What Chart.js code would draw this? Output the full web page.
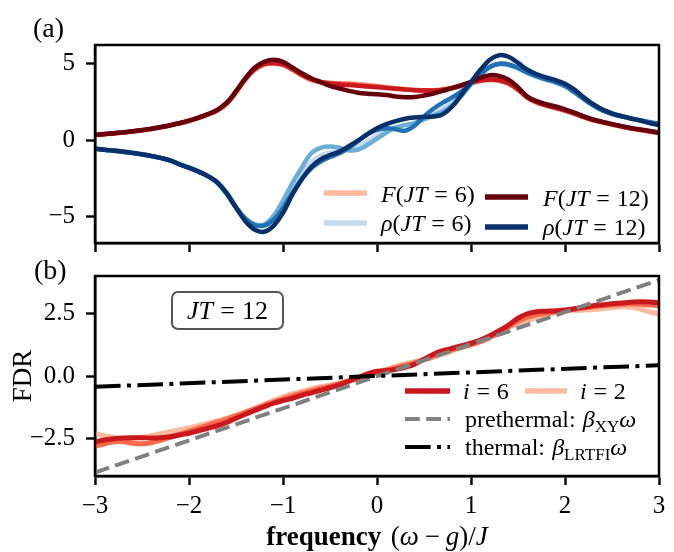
<!DOCTYPE html>
<html><head><meta charset="utf-8">
<script src="https://cdn.jsdelivr.net/npm/chart.js@4/dist/chart.umd.min.js"></script>
<style>
html,body{margin:0;padding:0;background:#fff;width:674px;height:552px;overflow:hidden}
#ca{position:absolute;left:0;top:0}
#cb{position:absolute;left:0;top:258px}
</style></head><body>
<canvas id="ca" width="674" height="258"></canvas>
<canvas id="cb" width="674" height="294"></canvas>
<script>
// ---------- data ----------
const freq = [-3.0,-2.9,-2.8,-2.7,-2.6,-2.5,-2.4,-2.3,-2.2,-2.1,
  -2.0,-1.9,-1.8,-1.7,-1.6,-1.5,-1.4,-1.3,-1.2,-1.1,
  -1.0,-0.9,-0.8,-0.7,-0.6,-0.5,-0.4,-0.3,-0.2,-0.1,
  0.0,0.1,0.2,0.3,0.4,0.5,0.6,0.7,0.8,0.9,
  1.0,1.1,1.2,1.3,1.4,1.5,1.6,1.7,1.8,1.9,
  2.0,2.1,2.2,2.3,2.4,2.5,2.6,2.7,2.8,2.9,3.0];

const F_JT6 = [0.33,0.38,0.44,0.50,0.56,0.64,0.73,0.84,0.96,1.10,
  1.26,1.45,1.67,1.94,2.38,3.10,3.95,4.60,4.93,5.00,
  4.90,4.60,4.22,3.92,3.78,3.74,3.72,3.70,3.66,3.60,
  3.54,3.47,3.40,3.34,3.29,3.26,3.25,3.28,3.38,3.54,
  3.72,3.86,3.93,3.88,3.68,3.28,2.76,2.44,2.24,2.08,
  1.91,1.71,1.49,1.30,1.15,1.01,0.88,0.76,0.66,0.56,0.47];
const F_JT8 = [0.33,0.38,0.44,0.50,0.56,0.64,0.73,0.84,0.96,1.10,
  1.26,1.45,1.67,1.94,2.38,3.12,3.98,4.62,4.95,5.02,
  4.92,4.62,4.25,3.95,3.80,3.74,3.70,3.68,3.64,3.58,
  3.52,3.44,3.37,3.32,3.28,3.26,3.26,3.30,3.40,3.56,
  3.74,3.88,3.95,3.90,3.70,3.30,2.78,2.46,2.26,2.10,
  1.93,1.73,1.50,1.31,1.16,1.02,0.89,0.77,0.67,0.57,0.48];
const F_JT10 = [0.34,0.39,0.45,0.51,0.57,0.65,0.74,0.85,0.97,1.11,
  1.27,1.46,1.68,1.95,2.40,3.15,4.00,4.65,4.98,5.05,
  4.95,4.65,4.28,3.98,3.80,3.70,3.64,3.60,3.56,3.51,
  3.46,3.41,3.36,3.31,3.27,3.25,3.25,3.30,3.42,3.58,
  3.76,3.90,3.97,3.92,3.72,3.32,2.80,2.48,2.28,2.12,
  1.95,1.75,1.52,1.32,1.17,1.03,0.90,0.78,0.68,0.58,0.49];
const F_JT12 = [0.35,0.40,0.46,0.52,0.58,0.66,0.75,0.86,0.98,1.12,
  1.28,1.48,1.70,1.98,2.45,3.20,4.05,4.75,5.12,5.25,
  5.12,4.75,4.38,4.05,3.80,3.55,3.38,3.22,3.10,3.04,
  3.00,2.95,2.85,2.80,2.82,2.92,3.05,3.22,3.40,3.60,
  3.82,4.08,4.25,4.20,3.95,3.45,2.85,2.55,2.35,2.20,
  2.02,1.80,1.55,1.35,1.20,1.05,0.92,0.80,0.70,0.60,0.50];

const rho_JT6 = [-0.56,-0.62,-0.68,-0.75,-0.83,-0.92,-1.03,-1.16,-1.32,-1.56,
  -1.78,-2.03,-2.33,-2.76,-3.48,-4.38,-5.12,-5.52,-5.55,-5.10,
  -4.25,-3.15,-2.20,-1.45,-1.00,-0.80,-0.70,-0.62,-0.40,-0.05,
  0.30,0.62,0.85,1.00,1.15,1.40,1.70,2.05,2.50,3.05,
  3.70,4.35,4.80,4.98,4.92,4.70,4.40,4.15,3.95,3.78,
  3.52,3.12,2.68,2.27,1.94,1.72,1.56,1.42,1.30,1.18,1.08];
const rho_JT8 = [-0.57,-0.63,-0.69,-0.76,-0.84,-0.93,-1.04,-1.17,-1.33,-1.58,
  -1.80,-2.05,-2.35,-2.78,-3.50,-4.40,-5.10,-5.50,-5.50,-4.95,
  -3.95,-2.80,-1.80,-0.85,-0.50,-0.42,-0.50,-0.66,-0.62,-0.30,
  0.10,0.50,0.82,0.98,1.12,1.35,1.62,1.88,2.28,2.90,
  3.65,4.35,4.80,4.98,4.92,4.70,4.40,4.15,3.95,3.78,
  3.52,3.12,2.68,2.27,1.94,1.72,1.56,1.42,1.30,1.18,1.08];
const rho_JT10 = [-0.57,-0.63,-0.69,-0.76,-0.84,-0.93,-1.04,-1.17,-1.33,-1.58,
  -1.80,-2.05,-2.35,-2.78,-3.50,-4.40,-5.15,-5.55,-5.58,-5.20,
  -4.45,-3.45,-2.55,-1.85,-1.40,-1.10,-0.85,-0.50,-0.05,0.40,
  0.68,0.78,0.72,0.62,0.95,1.55,2.05,2.45,2.80,3.20,
  3.70,4.30,4.78,5.00,4.95,4.72,4.42,4.18,3.98,3.80,
  3.55,3.15,2.70,2.28,1.95,1.72,1.56,1.42,1.30,1.18,1.08];
const rho_JT12 = [-0.55,-0.62,-0.68,-0.75,-0.83,-0.92,-1.03,-1.16,-1.32,-1.58,
  -1.80,-2.05,-2.35,-2.75,-3.45,-4.40,-5.30,-5.85,-5.98,-5.60,
  -4.75,-3.55,-2.55,-1.75,-1.25,-0.98,-0.75,-0.40,-0.02,0.40,
  0.78,1.05,1.25,1.40,1.48,1.52,1.55,1.70,2.20,3.00,
  3.80,4.60,5.25,5.55,5.45,5.05,4.60,4.30,4.10,3.92,
  3.68,3.30,2.80,2.35,2.00,1.75,1.57,1.42,1.28,1.12,0.98];

const fdr_i2 = [-2.30,-2.38,-2.45,-2.50,-2.48,-2.44,-2.38,-2.30,-2.22,-2.14,
  -2.06,-1.98,-1.88,-1.78,-1.68,-1.55,-1.42,-1.28,-1.12,-0.96,
  -0.82,-0.70,-0.60,-0.50,-0.42,-0.36,-0.28,-0.18,-0.05,0.08,
  0.18,0.28,0.40,0.50,0.58,0.66,0.76,0.88,1.02,1.15,
  1.28,1.42,1.60,1.78,1.95,2.10,2.22,2.35,2.45,2.55,
  2.60,2.63,2.65,2.67,2.70,2.74,2.78,2.76,2.68,2.57,2.49];
const fdr_i4 = [-2.80,-2.70,-2.62,-2.62,-2.68,-2.70,-2.66,-2.56,-2.44,-2.32,
  -2.20,-2.08,-1.96,-1.84,-1.72,-1.58,-1.44,-1.30,-1.16,-1.03,
  -0.90,-0.78,-0.68,-0.58,-0.48,-0.40,-0.30,-0.18,-0.05,0.08,
  0.16,0.24,0.34,0.44,0.54,0.66,0.80,0.94,1.06,1.16,
  1.26,1.38,1.55,1.75,1.98,2.20,2.36,2.46,2.52,2.58,
  2.63,2.68,2.73,2.78,2.82,2.85,2.88,2.89,2.88,2.85,2.82];
const fdr_i6 = [-2.62,-2.55,-2.50,-2.47,-2.46,-2.46,-2.47,-2.46,-2.42,-2.35,
  -2.28,-2.18,-2.08,-1.98,-1.85,-1.68,-1.52,-1.37,-1.22,-1.08,
  -0.97,-0.88,-0.76,-0.66,-0.56,-0.46,-0.34,-0.20,-0.06,0.10,
  0.20,0.22,0.28,0.36,0.48,0.68,0.88,1.02,1.12,1.22,
  1.32,1.45,1.62,1.82,2.05,2.32,2.50,2.58,2.60,2.62,
  2.65,2.70,2.76,2.82,2.86,2.90,2.93,2.96,2.98,2.97,2.93];

const lineX = [-3, 3];
const prethermal = [-3.85, 3.85];
const thermal = [-0.42, 0.44];

const ticksX = [-3,-2,-1,0,1,2,3];
const ticksA = [-5,0,5];
const ticksB = [-2.5,0,2.5];

// ---------- style ----------
const SERIF = '"Liberation Serif","DejaVu Serif",serif';
const REDS = ['#fcbba1','#fb6a4a','#cb181d','#67000d'];
const BLUES = ['#c6dbef','#6baed6','#2171b5','#08306b'];
const TICK = 25, LEG = 24;

const pts = (xs, ys) => xs.map((x,i)=>({x:x, y:ys[i]}));
const minus = s => s.replace('-', '\u2212');

function rich(ctx, parts, x, y, size, align){
  const fontOf = st => st==='i' ? `italic ${size}px ${SERIF}` : st==='b' ? `bold ${size}px ${SERIF}` :
    st==='s' ? `${Math.round(size*0.7)}px ${SERIF}` : `${size}px ${SERIF}`;
  let w = 0;
  const items = parts.map(([t,st]) => {
    if (typeof t === 'number') { w += t*size; return {sp:t*size}; }
    ctx.font = fontOf(st); const m = ctx.measureText(t).width; w += m; return {t, st, m};
  });
  let cx = align==='center' ? x - w/2 : x;
  ctx.textBaseline = 'alphabetic'; ctx.textAlign = 'left'; ctx.fillStyle = '#000';
  for (const it of items) {
    if (it.sp !== undefined) { cx += it.sp; continue; }
    ctx.font = fontOf(it.st);
    ctx.fillText(it.t, cx, y + (it.st==='s' ? size*0.2 : 0));
    cx += it.m;
  }
}
function handle(ctx, x1, x2, y, color, lw, dash){
  ctx.save(); ctx.strokeStyle = color; ctx.lineWidth = lw; ctx.lineCap='butt';
  ctx.setLineDash(dash || []); ctx.beginPath(); ctx.moveTo(x1,y); ctx.lineTo(x2,y); ctx.stroke(); ctx.restore();
}

const frame = { id:'frame', afterDraw(c){
  const a = c.chartArea, ctx = c.ctx; ctx.save(); ctx.strokeStyle='#000'; ctx.lineWidth=2.5;
  ctx.strokeRect(a.left, a.top, a.right-a.left, a.bottom-a.top); ctx.restore(); } };

function gridOpts(){ return {drawOnChartArea:false, drawTicks:true, tickLength:9, tickWidth:2.4, tickColor:'#000'}; }
function yScale(min, max, ticks, fmt){
  return { type:'linear', min, max,
    afterBuildTicks: s => { s.ticks = ticks.map(v=>({value:v})); },
    afterFit: s => { s.width = 95; s.paddingTop = 0; s.paddingBottom = 0; },
    grid: gridOpts(), border:{display:true, color:'#000', width:2.5},
    ticks:{color:'#000', padding:11, font:{family:SERIF, size:TICK}, callback: v => fmt(v)} };
}
function xScale(h, show){
  return { type:'linear', min:-3, max:3,
    afterBuildTicks: s => { s.ticks = ticksX.map(v=>({value:v})); },
    afterFit: s => { s.height = h; s.paddingLeft = 0; s.paddingRight = 0; },
    grid: gridOpts(), border:{display:true, color:'#000', width:2.5},
    ticks:{display:show, color:'#000', padding:6, maxRotation:0, font:{family:SERIF, size:TICK},
      callback: v => minus(String(v))} };
}
const common = { responsive:false, animation:false, events:[],
  plugins:{legend:{display:false}, tooltip:{enabled:false}} };

// ---------- panel (a) ----------
const dsA = [];
const JTs = [6,8,10,12];
const Fs = [F_JT6, F_JT8, F_JT10, F_JT12];
const Rs = [rho_JT6, rho_JT8, rho_JT10, rho_JT12];
JTs.forEach((jt,k) => {
  dsA.push({label:`F(JT=${jt})`, data:pts(freq, Fs[k]), borderColor:REDS[k]});
  dsA.push({label:`rho(JT=${jt})`, data:pts(freq, Rs[k]), borderColor:BLUES[k]});
});
dsA.forEach((d,i) => Object.assign(d, {order:100-i, borderWidth:4.5, pointRadius:0, tension:0.4, fill:false}));

const textA = { id:'textA', afterDraw(c){
  const ctx = c.ctx;
  rich(ctx, [['(a)','r']], 33, 37, 28);
  handle(ctx, 324, 367, 193, REDS[0], 5.5);
  rich(ctx, [['F','i'],['(','r'],['JT','i'],[0.28],['=','r'],[0.28],['6)','r']], 381, 202, LEG);
  handle(ctx, 324, 367, 223, BLUES[0], 5.5);
  rich(ctx, [['ρ','i'],['(','r'],['JT','i'],[0.28],['=','r'],[0.28],['6)','r']], 381, 231, LEG);
  handle(ctx, 485, 528, 197, REDS[3], 5.5);
  rich(ctx, [['F','i'],['(','r'],['JT','i'],[0.28],['=','r'],[0.28],['12)','r']], 543, 206, LEG);
  handle(ctx, 485, 528, 227, BLUES[3], 5.5);
  rich(ctx, [['ρ','i'],['(','r'],['JT','i'],[0.28],['=','r'],[0.28],['12)','r']], 543, 235, LEG);
}};

new Chart(document.getElementById('ca'), {
  type:'line', data:{datasets:dsA},
  options:Object.assign({}, common, {
    layout:{padding:{left:0, right:15, top:45, bottom:0}},
    scales:{ x:xScale(15, false), y:yScale(-6.72, 6.22, ticksA, v => minus(String(v))) } }),
  plugins:[frame, textA]
});

// ---------- panel (b) ----------
const OY = 258;
const dsB = [
  {label:'i=2', data:pts(freq, fdr_i2), borderColor:REDS[0], borderWidth:5, tension:0.4},
  {label:'i=4', data:pts(freq, fdr_i4), borderColor:REDS[1], borderWidth:5, tension:0.4},
  {label:'i=6', data:pts(freq, fdr_i6), borderColor:REDS[2], borderWidth:5, tension:0.4},
  {label:'prethermal', data:pts(lineX, prethermal), borderColor:'#808080', borderWidth:4, borderDash:[14.8,6.4], tension:0},
  {label:'thermal', data:pts(lineX, thermal), borderColor:'#000', borderWidth:4, borderDash:[25.6,6.4,4,6.4], tension:0}
];
dsB.forEach((d,i) => Object.assign(d, {order:100-i, pointRadius:0, fill:false, borderCapStyle:'butt'}));

const textB = { id:'textB', afterDraw(c){
  const ctx = c.ctx;
  rich(ctx, [['(b)','r']], 34, 279-OY, 28);
  // y label
  ctx.save(); ctx.translate(22, 376-OY); ctx.rotate(-Math.PI/2);
  rich(ctx, [['FDR','r']], 0, 9, 27, 'center'); ctx.restore();
  // x label
  rich(ctx, [['frequency','b'],[0.35],['(','r'],['ω','i'],[0.22],['−','r'],[0.22],['g','i'],[')/','r'],['J','i']], 377, 545-OY, 27, 'center');
  // JT box
  ctx.save(); ctx.fillStyle='#fff'; ctx.strokeStyle='#555'; ctx.lineWidth=2;
  ctx.beginPath(); ctx.roundRect(172, 292-OY, 111, 37, 6); ctx.fill(); ctx.stroke(); ctx.restore();
  rich(ctx, [['JT','i'],[0.28],['=','r'],[0.28],['12','r']], 227.5, 319-OY, 26, 'center');
  // legend
  handle(ctx, 405, 450, 391-OY, REDS[2], 5.5);
  rich(ctx, [['i','i'],[0.28],['=','r'],[0.28],['6','r']], 463, 399-OY, LEG);
  handle(ctx, 525, 567, 391-OY, REDS[0], 5.5);
  rich(ctx, [['i','i'],[0.28],['=','r'],[0.28],['2','r']], 580, 399-OY, LEG);
  handle(ctx, 405, 450, 419-OY, '#808080', 4, [14.8,6.4]);
  rich(ctx, [['prethermal:','r'],[0.3],['β','i'],['XY','s'],['ω','i']], 465, 427-OY, LEG);
  handle(ctx, 405, 450, 447-OY, '#000', 4, [25.6,6.4,4,6.4]);
  rich(ctx, [['thermal:','r'],[0.3],['β','i'],['LRTFI','s'],['ω','i']], 465, 455-OY, LEG);
}};

new Chart(document.getElementById('cb'), {
  type:'line', data:{datasets:dsB},
  options:Object.assign({}, common, {
    layout:{padding:{left:0, right:15, top:18, bottom:0}},
    scales:{ x:xScale(76, true),
      y:yScale(-3.99, 4.01, ticksB, v => minus(v.toFixed(1))) } }),
  plugins:[frame, textB]
});
</script>
</body></html>
